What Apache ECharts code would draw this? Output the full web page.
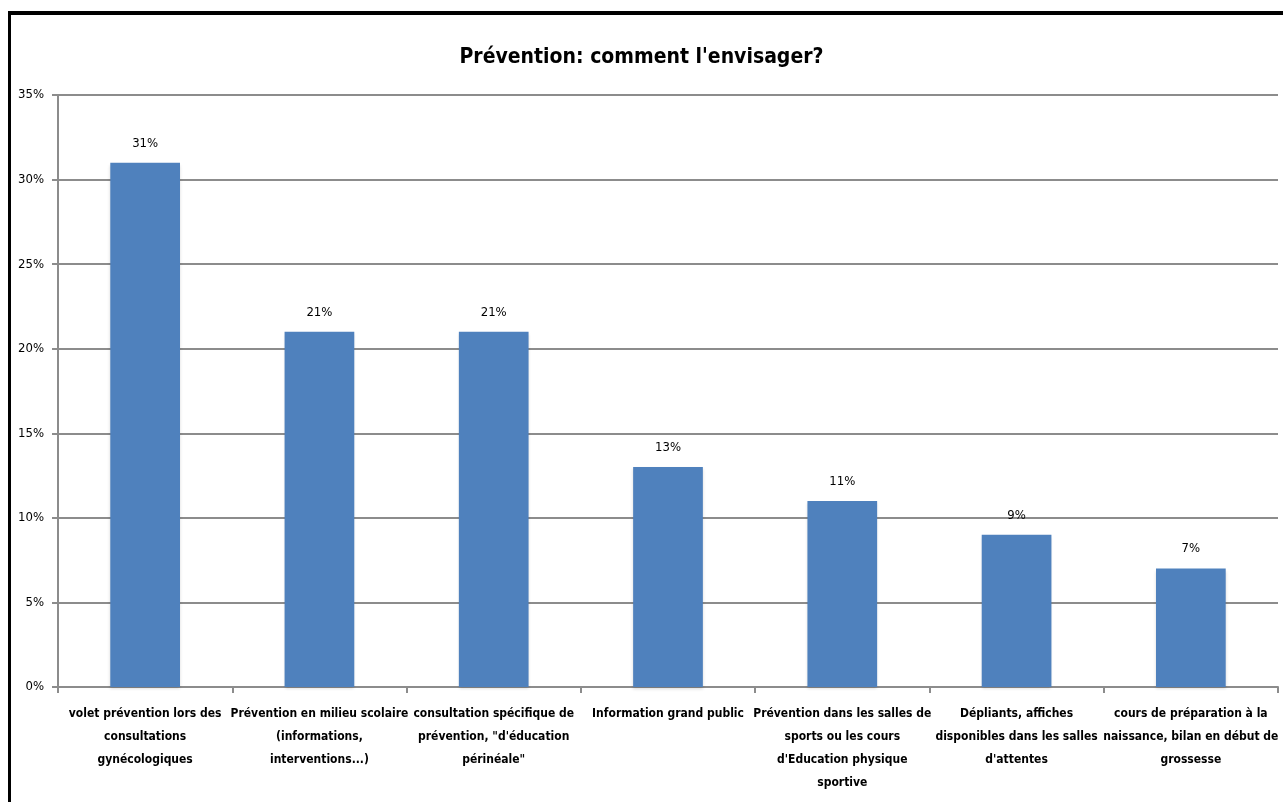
<!DOCTYPE html>
<html>
<head>
<meta charset="utf-8">
<script src="https://cdn.jsdelivr.net/npm/echarts@6/dist/echarts.min.js"></script>
<style>
html,body{margin:0;padding:0;background:#fff;overflow:hidden;}
#chart{position:absolute;left:0;top:0;width:100vw;height:100vh;}
#frame{position:absolute;left:8px;top:11px;right:0;bottom:0;border-top:4px solid #000;border-left:3px solid #000;pointer-events:none;}
</style>
</head>
<body>
<div id="chart"></div>
<div id="frame"></div>
<script>
var titleText = "Prévention: comment l'envisager?";
var categories = [
  "volet prévention lors des\nconsultations\ngynécologiques",
  "Prévention en milieu scolaire\n(informations,\ninterventions...)",
  "consultation spécifique de\nprévention, \"d'éducation\npérinéale\"",
  "Information grand public",
  "Prévention dans les salles de\nsports ou les cours\nd'Education physique\nsportive",
  "Dépliants, affiches\ndisponibles dans les salles\nd'attentes",
  "cours de préparation à la\nnaissance, bilan en début de\ngrossesse"
];
var values = [31, 21, 21, 13, 11, 9, 7];
var yTicks = {min: 0, max: 35, interval: 5};

var FONT = "'Liberation Sans Narrow', 'DejaVu Sans Condensed', 'Noto Sans', sans-serif";
var chart = echarts.init(document.getElementById('chart'));
chart.setOption({
  animation: false,
  textStyle: {fontFamily: FONT},
  title: {
    text: titleText,
    left: 'center',
    top: 42,
    textStyle: {fontFamily: FONT, fontSize: 21, fontWeight: 'bold', color: '#000'}
  },
  grid: {left: 58, right: 5, top: 95, bottom: 115, containLabel: false},
  xAxis: {
    type: 'category',
    data: categories,
    axisLine: {show: true, lineStyle: {color: '#8c8c8c', width: 2}},
    axisTick: {show: true, length: 6, lineStyle: {color: '#8c8c8c', width: 2}},
    axisLabel: {
      interval: 0, margin: 15, color: '#000', fontFamily: FONT,
      fontSize: 12, fontWeight: 'bold', lineHeight: 23, align: 'center'
    }
  },
  yAxis: {
    type: 'value',
    min: yTicks.min, max: yTicks.max, interval: yTicks.interval,
    axisLine: {show: true, lineStyle: {color: '#8c8c8c', width: 2}},
    axisTick: {show: true, length: 6, lineStyle: {color: '#8c8c8c', width: 2}},
    splitLine: {show: true, lineStyle: {color: '#8c8c8c', width: 2}},
    axisLabel: {formatter: '{value}%', color: '#000', fontSize: 13, margin: 14, fontFamily: FONT}
  },
  series: [{
    type: 'bar',
    data: values,
    barWidth: '40%',
    itemStyle: {color: '#4F81BD', shadowColor: 'rgba(0,0,0,0.15)', shadowBlur: 3, shadowOffsetY: 2},
    label: {
      show: true, position: 'top', distance: 13,
      formatter: '{c}%', color: '#000', fontSize: 13, fontFamily: FONT
    }
  }]
});
</script>
</body>
</html>
